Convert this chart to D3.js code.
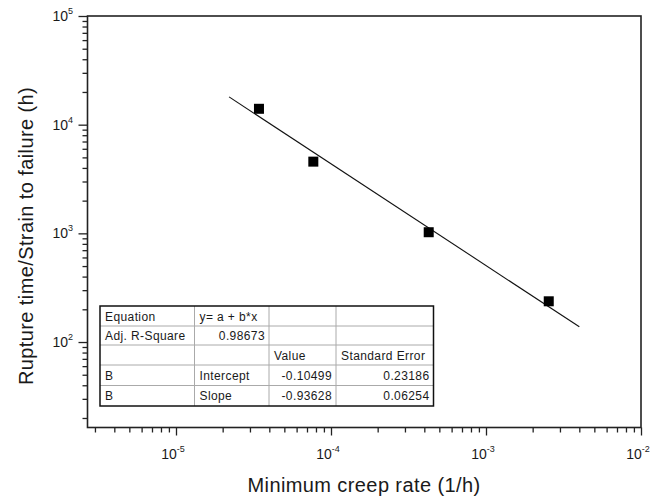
<!DOCTYPE html>
<meta charset="utf-8">
<style>
body { margin: 0; background: #fff; }
text { font-family: "Liberation Sans", Arial, sans-serif; fill: #1a1a1a; }
.tbl text { font-size: 12px; letter-spacing: 0.4px; }
.title { font-size: 20px; letter-spacing: 0.4px; }
</style>
<svg width="651" height="497"></svg>
<script src="https://d3js.org/d3.v7.min.js"></script>
<script>

// measured points (minimum creep rate, rupture time / strain to failure)
var rates = [3.43e-5, 7.69e-5, 4.27e-4, 2.54e-3];
var times = [14000, 4570, 1024, 237];

// linear fit in log10 space: log y = a + b log x
var intercept = -0.10499, slope = -0.93628;
var fitRange = [2.2e-5, 4.0e-3];

var xMajor = [1e-5, 1e-4, 1e-3, 1e-2];
var xExp = ["-5", "-4", "-3", "-2"];
var yMajor = [1e2, 1e3, 1e4, 1e5];
var yExp = ["2", "3", "4", "5"];

var tableRows = [
  ["Equation", "y= a + b*x", "", ""],
  ["Adj. R-Square", "0.98673", "", ""],
  ["", "", "Value", "Standard Error"],
  ["B", "Intercept", "-0.10499", "0.23186"],
  ["B", "Slope", "-0.93628", "0.06254"]
];
// right-aligned cells [row, col]
var rightCells = ["1,1", "3,2", "4,2", "3,3", "4,3"];

var svg = d3.select("svg");
var pLeft = 87.5, pRight = 641, pTop = 16, pBottom = 427.5;

var x = d3.scaleLog().domain([Math.pow(10, -5 - 88.5 / 155), 1e-2]).range([pLeft, pRight]);
var y = d3.scaleLog().domain([Math.pow(10, 2 - 85.5 / 108.7), 1e5]).range([pBottom, pTop]);

function minorTicks(scale) {
  var d = scale.domain(), out = [];
  for (var e = Math.floor(Math.log10(d[0])); e <= Math.ceil(Math.log10(d[1])); e++) {
    for (var k = 1; k <= 9; k++) {
      var v = k * Math.pow(10, e);
      if (v >= d[0] * 0.999 && v <= d[1] * 1.001) out.push(v);
    }
  }
  return out;
}
function isMajor(list, v) {
  return list.some(function(m) { return Math.abs(v / m - 1) < 1e-6; });
}

// x axis
var gx = svg.append("g").attr("transform", "translate(0," + pBottom + ")")
  .call(d3.axisBottom(x).tickValues(minorTicks(x)).tickSize(5).tickFormat(""));
gx.selectAll(".tick line").attr("y2", function(d) { return isMajor(xMajor, d) ? 8 : 5; })
  .attr("stroke", "#222").attr("stroke-width", 1.3);
gx.select(".domain").remove();

xMajor.forEach(function(v, i) {
  var t = svg.append("text").attr("x", x(v) - 3).attr("y", 459)
    .attr("text-anchor", "middle").style("font-size", "14px");
  t.append("tspan").text("10");
  t.append("tspan").attr("dy", -7).style("font-size", "9px").text(xExp[i]);
});

// y axis
var gy = svg.append("g").attr("transform", "translate(" + pLeft + ",0)")
  .call(d3.axisLeft(y).tickValues(minorTicks(y)).tickSize(5).tickFormat(""));
gy.selectAll(".tick line").attr("x2", function(d) { return isMajor(yMajor, d) ? -9 : -5; })
  .attr("stroke", "#222").attr("stroke-width", 1.3);
gy.select(".domain").remove();

yMajor.forEach(function(v, i) {
  var t = svg.append("text").attr("x", 73).attr("y", y(v) + 5)
    .attr("text-anchor", "end").style("font-size", "14px");
  t.append("tspan").text("10");
  t.append("tspan").attr("dy", -7).style("font-size", "9px").text(yExp[i]);
});

// frame
svg.append("rect").attr("x", pLeft).attr("y", pTop)
  .attr("width", pRight - pLeft).attr("height", pBottom - pTop)
  .attr("fill", "none").attr("stroke", "#222").attr("stroke-width", 1.6);

// fit line
var fitLine = d3.line()
  .x(function(d) { return x(d); })
  .y(function(d) { return y(Math.pow(10, intercept + slope * Math.log10(d))); });
svg.append("path").datum(fitRange).attr("d", fitLine)
  .attr("fill", "none").attr("stroke", "#111").attr("stroke-width", 1.1);

// points
svg.append("g").selectAll("rect").data(rates).join("rect")
  .attr("x", function(d) { return x(d) - 5; })
  .attr("y", function(d, i) { return y(times[i]) - 5; })
  .attr("width", 10).attr("height", 10).attr("fill", "#000");

// axis titles
svg.append("text").attr("class", "title").attr("x", 364).attr("y", 492).attr("text-anchor", "middle")
  .text("Minimum creep rate (1/h)");
svg.append("text").attr("class", "title").attr("transform", "translate(33,236) rotate(-90)")
  .attr("text-anchor", "middle").text("Rupture time/Strain to failure (h)");

// results table
var colX = [100, 194.5, 269, 336, 433.5];
var rowY = [306, 326, 345, 365, 385.5, 406];
var tbl = svg.append("g").attr("class", "tbl");
tbl.append("rect").attr("x", colX[0]).attr("y", rowY[0])
  .attr("width", colX[4] - colX[0]).attr("height", rowY[5] - rowY[0]).attr("fill", "#fff");
colX.slice(1, 4).forEach(function(cx) {
  tbl.append("line").attr("x1", cx).attr("x2", cx).attr("y1", rowY[0]).attr("y2", rowY[5])
    .attr("stroke", "#aaa").attr("stroke-width", 1);
});
rowY.slice(1, 5).forEach(function(ry) {
  tbl.append("line").attr("x1", colX[0]).attr("x2", colX[4]).attr("y1", ry).attr("y2", ry)
    .attr("stroke", "#aaa").attr("stroke-width", 1);
});
tbl.append("rect").attr("x", colX[0]).attr("y", rowY[0])
  .attr("width", colX[4] - colX[0]).attr("height", rowY[5] - rowY[0])
  .attr("fill", "none").attr("stroke", "#111").attr("stroke-width", 1.5);

tableRows.forEach(function(row, r) {
  row.forEach(function(txt, c) {
    if (!txt) return;
    var ra = rightCells.indexOf(r + "," + c) >= 0;
    tbl.append("text")
      .attr("x", ra ? colX[c + 1] - 4 : colX[c] + 5)
      .attr("y", (rowY[r] + rowY[r + 1]) / 2 + 4.5)
      .attr("text-anchor", ra ? "end" : "start")
      .text(txt);
  });
});
</script>
